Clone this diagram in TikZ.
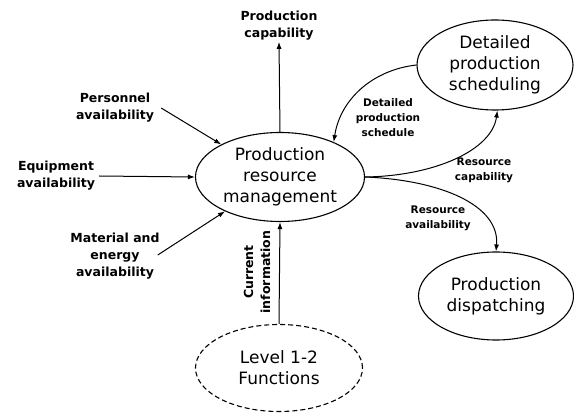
\documentclass[tikz,border=0pt]{standalone}
\usepackage{fontspec}
\setmainfont{DejaVu Sans}
\usetikzlibrary{shapes.geometric,arrows.meta}
\begin{document}
\begin{tikzpicture}[x=1pt,y=1pt,
  func/.style={ellipse,draw,line width=1.1pt,minimum width=#1,align=center,inner sep=0pt,
    font=\fontsize{17}{21}\selectfont},
  lab/.style={align=center,inner sep=1pt,font=\bfseries\fontsize{12.5}{17}\selectfont},
  slab/.style={align=center,inner sep=1pt,font=\bfseries\fontsize{10.5}{15}\selectfont},
  arr/.style={line width=1pt,-{Latex[length=7pt,width=5pt]}}]
\useasboundingbox (0,0) rectangle (574,-414);
\node[func=169pt,minimum height=89pt] (main) at (280,-177) {Production\\resource\\management};
\node[func=156pt,minimum height=90pt] (dps) at (495,-65) {Detailed\\production\\scheduling};
\node[func=155pt,minimum height=88pt] (disp) at (496,-296) {Production\\dispatching};
\node[func=167pt,minimum height=87pt,dashed,dash pattern=on 5pt off 3pt] (lvl) at (279,-368) {Level 1-2\\Functions};
\node[lab] (cap) at (279,-26) {Production\\capability};
\node[lab] (pers) at (115,-108) {Personnel\\availability};
\node[lab] (equip) at (56,-176) {Equipment\\availability};
\node[lab] (mat) at (115,-256) {Material and\\energy\\availability};
\node[lab,rotate=90] (cur) at (257,-272) {Current\\information};
\node[slab] (dpsl) at (388,-118) {Detailed\\production\\schedule};
\node[slab] (rcap) at (484,-170) {Resource\\capability};
\node[slab] (ravl) at (438,-218) {Resource\\availability};
\draw[arr] (main.north) -- (cap.south);
\draw[arr] ([xshift=6pt]pers.east) -- (main.151);
\draw[arr] ([xshift=3pt]equip.east) -- (main.west);
\draw[arr] ([xshift=-3pt,yshift=1pt]mat.east) -- (main.212);
\draw[arr] (lvl.north) -- (main.south);
\draw[arr] (dps.west) .. controls (372,-70) and (340,-100) .. (main.33);
\draw[arr] (main.east) .. controls (435,-176) and (492,-150) .. (dps.-87);
\draw[arr] (main.east) .. controls (440,-180) and (500,-205) .. (disp.north);
\end{tikzpicture}
\end{document}
